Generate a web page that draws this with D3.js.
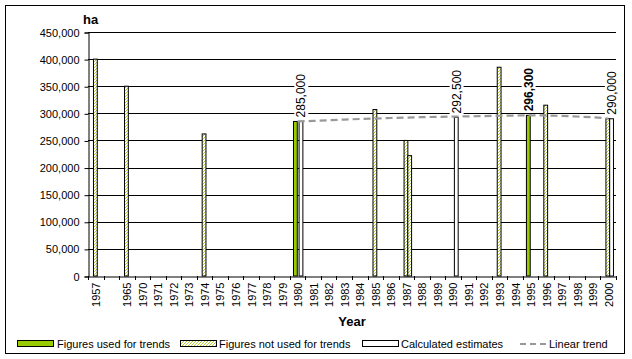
<!DOCTYPE html>
<html><head><meta charset="utf-8">
<script src="https://cdn.jsdelivr.net/npm/d3@7"></script>
<style>
body{margin:0;background:#fff}
svg{display:block}
text{font-family:Arial,"Liberation Sans",sans-serif;fill:#000}
</style>
</head><body>
<svg id="chart" width="632" height="359"></svg>
<script>
// ---------- data ----------
const categories = ["1957","","1965","1970","1971","1972","1973","1974","1975","1976","1977","1978","1979","1980","1981","1982","1983","1984","1985","1986","1987","1988","1989","1990","1991","1992","1993","1994","1995","1996","1997","1998","1999","2000"];
const usedYears = ["1980","1995"];
const usedValues = [285000, 296300];
const notUsedYears = ["1957","1965","1974","1985","1987","1993","1996","2000"];
const notUsedValues = [400000, 350000, 262000, 307000, 250000, 385000, 315000, 290000];
const notUsedSecondYears = ["1987"];
const notUsedSecondValues = [222000];
const calcYears = ["1980","1990","2000"];
const calcValues = [285000, 292500, 290000];
const trendYears = ["1980","1981","1982","1983","1984","1985","1986","1987","1988","1989","1990","1991","1992","1993","1994","1995","1996","1997","1998","1999","2000"];
const trendValues = [285000,286000,287200,288500,289600,290500,291400,292200,292900,293500,294000,294500,295000,295500,296000,296300,296100,295300,294200,292800,290500];
const yTicks = [0,50000,100000,150000,200000,250000,300000,350000,400000,450000];
const legendLabels = ["Figures used for trends","Figures not used for trends","Calculated estimates","Linear trend"];

// ---------- layout ----------
const svg = d3.select("#chart");
const L = 88, R = 616, T = 32, B = 276;
const x = d3.scaleBand().domain(categories).range([L, R]).padding(0);
const y = d3.scaleLinear().domain([0, 450000]).range([B, T]);
const bw = x.bandwidth();
const slot = d3.scalePoint().domain(["used","notUsed","spare","calc"]).range([3.6, 9.2]);
const barW = 3.8;

const defs = svg.append("defs");
const pat = defs.append("pattern").attr("id","hatch").attr("patternUnits","userSpaceOnUse")
  .attr("width",3).attr("height",3);
pat.append("rect").attr("width",3).attr("height",3).attr("fill","#fff");
pat.append("path").attr("d","M-1,1 L1,-1 M0,3 L3,0 M2,4 L4,2").attr("stroke","#a6c81e").attr("stroke-width",0.9);

// outer border
svg.append("rect").attr("x",5.5).attr("y",5.5).attr("width",619).attr("height",348)
  .attr("fill","#fff").attr("stroke","#000");

// gridlines
svg.append("g").selectAll("line").data(yTicks.filter(d=>d>0)).join("line")
  .attr("x1",L).attr("x2",R).attr("y1",d=>Math.round(y(d))+0.5).attr("y2",d=>Math.round(y(d))+0.5)
  .attr("stroke","#000").attr("stroke-width",1);

// y axis
const yAxis = svg.append("g").attr("transform",`translate(${L+0.5},0.5)`)
  .call(d3.axisLeft(y).tickValues(yTicks).tickSize(4).tickPadding(5).tickFormat(d3.format(",")));
yAxis.select(".domain").attr("stroke","#000");
yAxis.selectAll("text").attr("font-size",11).attr("font-family","Arial,'Liberation Sans',sans-serif").attr("fill","#000");
yAxis.selectAll("line").attr("stroke","#000");

// x axis
const xAxis = svg.append("g").attr("transform",`translate(0.5,${B+0.5})`)
  .call(d3.axisBottom(x).tickSize(0).tickSizeOuter(0));
xAxis.select(".domain").attr("stroke","#000");
xAxis.selectAll("text").attr("font-size",11).attr("font-family","Arial,'Liberation Sans',sans-serif").attr("fill","#000")
  .attr("transform","rotate(-90)").attr("text-anchor","end").attr("x",-6).attr("y",0).attr("dy","0.36em");
svg.append("g").selectAll("line").data(categories.map(c=>x(c)).concat([R])).join("line")
  .attr("x1",d=>Math.round(d)+0.5).attr("x2",d=>Math.round(d)+0.5).attr("y1",B).attr("y2",B+4)
  .attr("stroke","#000");

// bars
function bars(years, values, key, fill){
  svg.append("g").selectAll("rect").data(years.map((yr,i)=>({yr, v:values[i]}))).join("rect")
    .attr("x",d=>x(d.yr)+slot(key)).attr("width",barW)
    .attr("y",d=>y(d.v)).attr("height",d=>B-y(d.v))
    .attr("fill",fill).attr("stroke","#000").attr("stroke-width",1);
}
bars(usedYears, usedValues, "used", "#99cc00");
bars(notUsedYears, notUsedValues, "notUsed", "url(#hatch)");
bars(notUsedSecondYears, notUsedSecondValues, "calc", "url(#hatch)");
bars(calcYears, calcValues, "calc", "#fff");

// trend line
const line = d3.line().x(d=>x(d.yr)+bw/2).y(d=>y(d.v));
svg.append("path").datum(trendYears.map((yr,i)=>({yr, v:trendValues[i]})))
  .attr("d",line).attr("fill","none").attr("stroke","#999").attr("stroke-width",2.2)
  .attr("stroke-dasharray","7,4");

// data labels
function labels(years, values, key, bold){
  const g = svg.append("g");
  years.forEach((yr,i)=>{
    const cx = x(yr)+slot(key)+barW/2, ty = y(values[i])-4;
    const t = g.append("text").attr("transform",`translate(${cx},${ty}) rotate(-90)`)
      .attr("font-size",12).attr("dy","0.36em").attr("font-weight",bold?"bold":"normal")
      .text(d3.format(",")(values[i]));
    const bb = t.node().getBBox();
    g.insert("rect","text").attr("transform",`translate(${cx},${ty}) rotate(-90)`)
      .attr("x",bb.x-1).attr("y",bb.y).attr("width",bb.width+2).attr("height",bb.height).attr("fill","#fff");
  });
}
labels(calcYears, calcValues, "calc", false);
labels(["1995"], [296300], "used", true);

// axis titles
svg.append("text").attr("x",83).attr("y",24).attr("font-size",13).attr("font-weight","bold").text("ha");
svg.append("text").attr("x",(L+R)/2).attr("y",326).attr("text-anchor","middle").attr("font-size",13).attr("font-weight","bold").text("Year");

// legend
const lg = svg.append("g");
const ly = 341;
lg.append("rect").attr("x",17.5).attr("y",ly-0.5).attr("width",36).attr("height",6).attr("fill","#99cc00").attr("stroke","#000");
lg.append("text").attr("x",57).attr("y",347.5).attr("font-size",11).text(legendLabels[0]);
lg.append("rect").attr("x",180.5).attr("y",ly-0.5).attr("width",36).attr("height",6).attr("fill","url(#hatch)").attr("stroke","#000");
lg.append("text").attr("x",219).attr("y",347.5).attr("font-size",11).text(legendLabels[1]);
lg.append("rect").attr("x",362.5).attr("y",ly-0.5).attr("width",36).attr("height",6).attr("fill","#fff").attr("stroke","#000");
lg.append("text").attr("x",401).attr("y",347.5).attr("font-size",11).text(legendLabels[2]);
lg.append("line").attr("x1",520).attr("x2",546).attr("y1",344).attr("y2",344).attr("stroke","#999").attr("stroke-width",2.2).attr("stroke-dasharray","6,4");
lg.append("text").attr("x",549).attr("y",347.5).attr("font-size",11).text(legendLabels[3]);
</script>
</body></html>
